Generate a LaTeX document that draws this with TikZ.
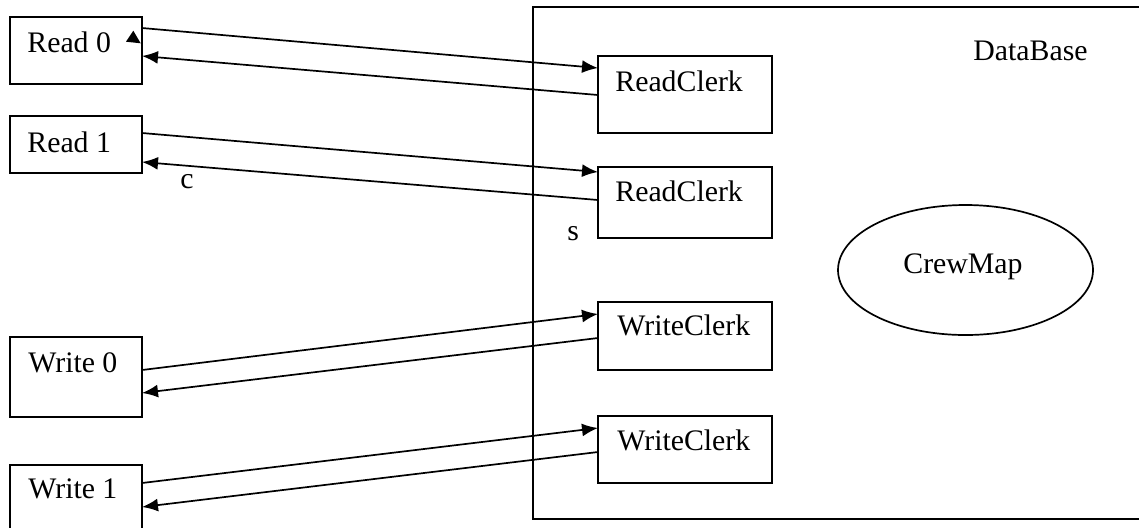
\documentclass[tikz,border=0pt]{standalone}
\usepackage{fontspec}
\setmainfont{Liberation Serif}
\usetikzlibrary{calc,arrows.meta,shapes.geometric}
\begin{document}
\begin{tikzpicture}[x=0.5pt,y=-0.5pt,
  box/.style={draw,line width=0.85pt,inner sep=0pt,outer sep=0pt,rectangle},
  lbl/.style={inner sep=0pt,anchor=base west,font=\fontsize{14.9}{17}\selectfont},
  conn/.style={line width=0.85pt,-{Latex[length=8pt,width=6.5pt]}},
  plain/.style={line width=0.85pt}]
\clip (0,0) rectangle (1139,527);
\fill[white] (0,0) rectangle (1139,527);
% DataBase container
\node[box,minimum width=313.5pt,minimum height=256pt] (db) at (846.5,263) {};
\node[lbl] (dbl) at (973,60) {DataBase};
% client boxes
\node[box,minimum width=66pt,minimum height=33.5pt] (r0) at (76,50.5) {};
\node[box,minimum width=66pt,minimum height=28.5pt] (r1) at (76,144.5) {};
\node[box,minimum width=66pt,minimum height=40pt] (w0) at (76,377) {};
\node[box,minimum width=66pt,minimum height=40pt] (w1) at (76,505) {};
\node[lbl] (r0l) at (27,52) {Read 0};
\node[lbl] (r1l) at (27,152) {Read 1};
\node[lbl] (w0l) at (28,372) {Write 0};
\node[lbl] (w1l) at (28,498) {Write 1};
% clerk boxes
\node[box,minimum width=87pt,minimum height=38.5pt] (rc1) at (685,94.5) {};
\node[box,minimum width=87pt,minimum height=35.5pt] (rc2) at (685,202.5) {};
\node[box,minimum width=87pt,minimum height=34pt] (wc1) at (685,336) {};
\node[box,minimum width=87pt,minimum height=33.5pt] (wc2) at (685,449.5) {};
\node[lbl] (rc1l) at (615,91) {ReadClerk};
\node[lbl] (rc2l) at (615,201) {ReadClerk};
\node[lbl] (wc1l) at (617,335) {WriteClerk};
\node[lbl] (wc2l) at (617,450) {WriteClerk};
% CrewMap
\node[draw,ellipse,line width=0.85pt,minimum width=127.5pt,minimum height=65pt,inner sep=0pt] (cm) at (965.5,270) {};
\node[lbl] (cml) at (903,273) {CrewMap};
% small labels
\node[lbl] (cl) at (180,188) {c};
\node[lbl] (sl) at (567,240) {s};
% connectors
\draw[conn] ($(r0.north east)+(0,11)$) -- ($(rc1.north west)+(0,12)$);
\draw[conn] ($(rc1.north west)+(0,39)$) -- ($(r0.north east)+(0,39)$);
\fill ($(r0.north east)+(-16,24.7)$) -- ($(r0.north east)+(-1.3,26.3)$) -- ($(r0.north east)+(-8.7,13.7)$) -- cycle;
\draw[conn] ($(r1.north east)+(0,17)$) -- ($(rc2.north west)+(0,5)$);
\draw[conn] ($(rc2.north west)+(0,33)$) -- ($(r1.north east)+(0,46)$);
\draw[conn] ($(w0.north east)+(0,33)$) -- ($(wc1.north west)+(0,12)$);
\draw[conn] ($(wc1.north west)+(0,36)$) -- ($(w0.north east)+(0,56)$);
\draw[conn] ($(w1.north east)+(0,18)$) -- ($(wc2.north west)+(0,12)$);
\draw[conn] ($(wc2.north west)+(0,36)$) -- ($(w1.north east)+(0,42)$);
\end{tikzpicture}
\end{document}
